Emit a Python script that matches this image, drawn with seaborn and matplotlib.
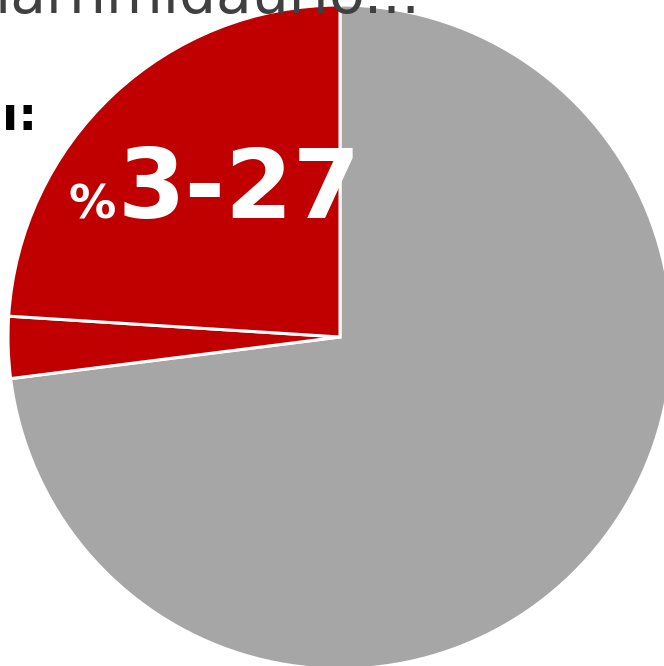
import matplotlib
matplotlib.use("Agg")
import matplotlib.pyplot as plt
import seaborn as sns

sns.set_theme(style="white")
plt.rcParams['font.family'] = ['DejaVu Sans']

labels = ["Other", "Small share", "Main share"]
values = [73, 3, 24]
colors = ["#A6A6A6", "#C00000", "#C00000"]
title_text = "ıarnmıdaurıo..:"
side_text = "ı:"
big_label = "3-27"
pct_sign = "%"

W, H = 664, 666
fig = plt.figure(figsize=(W / 100, H / 100), dpi=100)
fig.patch.set_facecolor("white")

cx, cy, r = 340, 337, 332
ax = fig.add_axes([(cx - r) / W, (H - cy - r) / H, 2 * r / W, 2 * r / H])
ax.pie(values, colors=colors, startangle=90, counterclock=False,
       wedgeprops=dict(edgecolor="white", linewidth=2.2))
ax.set_xlim(-1, 1)
ax.set_ylim(-1, 1)
ax.axis("off")

fig.text(-6 / W, 1 - 13 / H, title_text, fontsize=42, color="#404040",
         ha="left", va="baseline", zorder=10)
fig.text(37 / W, 1 - 130 / H, side_text, fontsize=34, fontweight="bold",
         color="black", ha="right", va="baseline")
fig.text(118 / W, 1 - 218 / H, big_label, fontsize=70, fontweight="bold",
         color="white", ha="left", va="baseline")
fig.text(116 / W, 1 - 218 / H, pct_sign, fontsize=34, fontweight="bold",
         color="white", ha="right", va="baseline")

fig.savefig("out.png", dpi=100, facecolor="white")
